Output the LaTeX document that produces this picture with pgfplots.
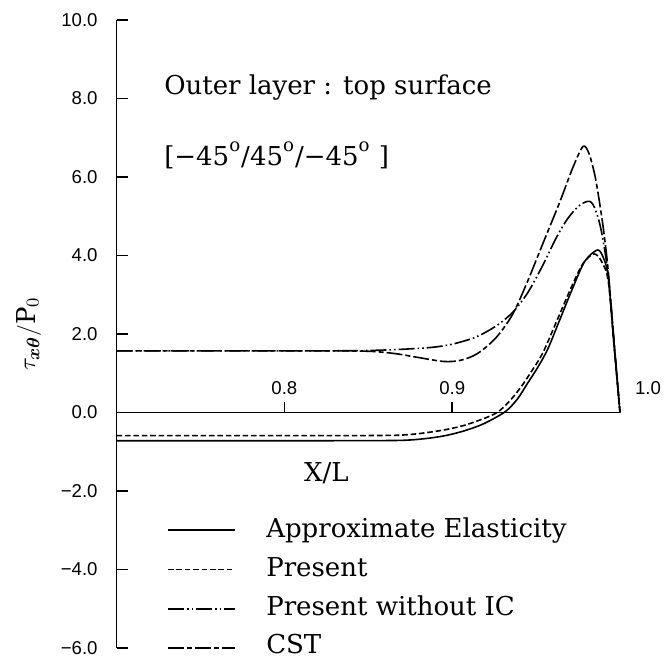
\documentclass[border=0pt]{standalone}
\usepackage{amsmath}
\usepackage{fontspec}
\setmainfont{DejaVu Serif}
\newfontfamily\tickfont{Liberation Sans}
\usepackage{pgfplots}
\pgfplotsset{compat=1.18}

\newcommand\txt{\fontsize{13}{15}\selectfont}
\newcommand\tck{\tickfont\fontsize{9.3}{11}\selectfont}

\begin{document}
\begin{tikzpicture}
\useasboundingbox (-58.3pt,-5pt) rectangle (274.2pt,324pt);
\begin{axis}[
    scale only axis,
    width=251.7pt, height=314pt,
    xmin=0.7, xmax=1.0,
    ymin=-6, ymax=10,
    axis x line=middle,
    axis y line=left,
    axis line style={-, line width=0.7pt},
    hide obscured x ticks=false,
    hide obscured y ticks=false,
    xtick={0.8,0.9}, xticklabels={},
    xtick align=center,
    x tick style={yshift=2.5pt},
    ytick={-6,-4,...,10},
    yticklabels={−6.0,−4.0,−2.0,0.0,2.0,4.0,6.0,8.0,10.0},
    ytick align=inside,
    major tick length=5.5pt,
    tick style={black, line width=0.7pt},
    yticklabel style={font=\tck, xshift=-6pt},
    clip=false,
]

% Approximate Elasticity
\addplot[black, line width=0.8pt, smooth] coordinates {
  (0.700,-0.72) (0.800,-0.72) (0.860,-0.715) (0.875,-0.70) (0.887,-0.65)
  (0.897,-0.58) (0.907,-0.47) (0.917,-0.32) (0.925,-0.15) (0.9325,0.05)
  (0.939,0.35) (0.945,0.75) (0.951,1.15) (0.957,1.62) (0.964,2.35)
  (0.972,3.19) (0.979,3.85) (0.9865,4.14) (0.990,3.95) (0.993,3.45)
  (0.9965,1.70) (1.000,0.00)
};

% Present
\addplot[black, line width=0.8pt, smooth, dash pattern=on 2.8pt off 1.4pt] coordinates {
  (0.700,-0.59) (0.800,-0.59) (0.860,-0.585) (0.875,-0.56) (0.887,-0.50)
  (0.897,-0.43) (0.907,-0.33) (0.916,-0.20) (0.922,-0.10) (0.9275,0.02)
  (0.934,0.28) (0.941,0.65) (0.947,1.03) (0.954,1.52) (0.962,2.30)
  (0.971,3.19) (0.978,3.80) (0.9845,4.04) (0.989,3.85) (0.993,3.35)
  (0.9965,1.70) (1.000,0.00)
};

% Present without IC
\addplot[black, line width=0.8pt, smooth,
         dash pattern=on 8pt off 1.5pt on 0.8pt off 1.5pt on 0.8pt off 1.5pt] coordinates {
  (0.700,1.57) (0.760,1.57) (0.820,1.57) (0.850,1.58) (0.870,1.61)
  (0.888,1.66) (0.900,1.74) (0.914,1.92) (0.926,2.20) (0.936,2.55)
  (0.945,3.05) (0.954,3.75) (0.962,4.45) (0.969,4.95) (0.976,5.28)
  (0.982,5.38) (0.9855,5.15) (0.989,4.60) (0.993,3.50) (0.9965,1.75)
  (1.000,0.00)
};

% CST
\addplot[black, line width=0.8pt, smooth,
         dash pattern=on 8pt off 1.5pt on 2.5pt off 1.5pt] coordinates {
  (0.700,1.57) (0.760,1.57) (0.820,1.57) (0.850,1.56) (0.866,1.50)
  (0.880,1.40) (0.895,1.30) (0.905,1.33) (0.915,1.50) (0.926,1.90)
  (0.936,2.50) (0.945,3.35) (0.954,4.30) (0.964,5.35) (0.972,6.25)
  (0.978,6.78) (0.9815,6.60) (0.985,6.05) (0.988,5.30) (0.9905,4.55)
  (0.993,3.60) (0.9965,1.80) (1.000,0.00)
};

% x tick labels sit above the axis line
\node[anchor=base, yshift=9pt, font=\tck] at (axis cs:0.8,0) {0.8};
\node[anchor=base, yshift=9pt, font=\tck] at (axis cs:0.9,0) {0.9};
\node[anchor=base west, xshift=4pt, yshift=9pt, font=\tck] at (axis cs:1.0,0) {1.0};
\node[font=\txt] at (axis cs:0.825,-1.55) {X/L};

\node[rotate=90, font=\txt] at ([xshift=-44pt]rel axis cs:0,0.5)
    {$\tau_{\boldsymbol{x\theta}}/\mathrm{P}_0$};

\node[anchor=base west, font=\txt] at (axis cs:0.7242,8.1) {Outer layer : top surface};
\node[anchor=base west, font=\txt] at (axis cs:0.7242,6.3)
    {[−45\textsuperscript{o}/45\textsuperscript{o}/−45\textsuperscript{o} ]};

% legend
\draw[black, line width=0.8pt] (axis cs:0.7306,-3) -- (axis cs:0.7705,-3);
\draw[black, line width=0.8pt, dash pattern=on 2.8pt off 1.4pt]
    (axis cs:0.7306,-4) -- (axis cs:0.7705,-4);
\draw[black, line width=0.8pt, dash pattern=on 8pt off 1.5pt on 0.8pt off 1.5pt on 0.8pt off 1.5pt]
    (axis cs:0.7306,-5) -- (axis cs:0.7705,-5);
\draw[black, line width=0.8pt, dash pattern=on 8pt off 1.5pt on 2.5pt off 1.5pt]
    (axis cs:0.7306,-6) -- (axis cs:0.7705,-6);
\node[anchor=base west, yshift=-3.5pt, font=\txt] at (axis cs:0.785,-3) {Approximate Elasticity};
\node[anchor=base west, yshift=-3.5pt, font=\txt] at (axis cs:0.785,-4) {Present};
\node[anchor=base west, yshift=-3.5pt, font=\txt] at (axis cs:0.785,-5) {Present without IC};
\node[anchor=base west, yshift=-3pt, font=\txt] at (axis cs:0.785,-6) {CST};

\end{axis}
\end{tikzpicture}
\end{document}
